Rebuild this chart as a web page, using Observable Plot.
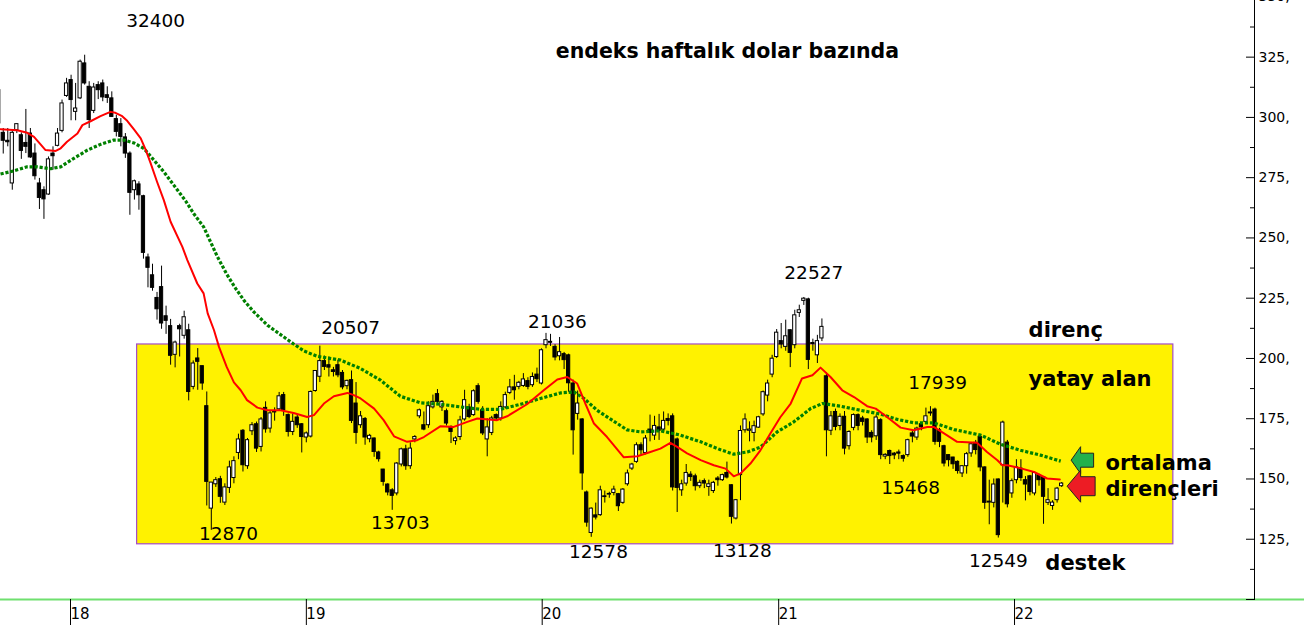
<!DOCTYPE html>
<html><head><meta charset="utf-8">
<script src="https://cdn.jsdelivr.net/npm/d3@7"></script>
<script src="https://cdn.jsdelivr.net/npm/@observablehq/plot@0.6"></script>
<style>html,body{margin:0;padding:0;background:#fff;} svg{display:block}</style>
</head><body><div id="chart"></div>
<script>
// ---------- data ----------
const firstWeek = "2017-09-15"; // date of the first weekly candle
const opens = [311.3,293.6,290.3,272.6,294.7,292.6,289.4,293.3,285.0,272.6,
269.8,268.0,285.0,288.2,294.4,308.9,315.5,302.3,307.9,322.4,
312.7,302.7,313.4,314.1,309.2,307.9,299.3,297.2,291.7,285.0,
269.8,272.2,267.3,241.9,234.5,225.1,229.6,217.5,213.4,201.5,
213.4,209.4,211.7,188.2,200.0,196.8,180.2,137.7,147.8,149.9,
140.2,146.3,150.4,160.8,170.0,155.3,169.8,172.7,163.3,179.5,
170.9,177.6,178.9,184.8,176.5,169.5,175.5,172.7,167.2,167.6,
186.5,192.4,198.9,197.2,195.1,197.2,194.0,188.5,191.0,181.3,
172.3,174.9,166.5,166.8,161.0,153.9,147.7,145.3,144.0,156.0,
162.3,155.3,166.4,176.0,172.3,172.3,179.7,185.2,179.7,178.1,
171.6,165.7,167.4,174.7,179.7,176.5,188.5,178.5,166.4,169.1,
176.5,175.1,179.7,185.7,188.0,188.2,188.6,190.6,188.9,193.3,
189.6,205.5,206.9,204.8,200.9,201.8,201.3,189.6,177.0,174.7,
144.4,127.6,134.9,135.0,142.8,143.5,144.2,143.7,140.1,147.8,
154.3,157.1,164.0,160.8,170.5,168.0,171.4,170.5,174.9,176.0,
166.4,145.3,148.1,151.8,151.1,147.0,149.1,146.7,145.0,150.2,
149.5,152.5,147.4,133.6,151.6,170.2,170.0,169.1,171.3,176.8,
184.6,193.3,200.6,207.2,204.8,211.7,205.5,218.9,223.9,224.5,
206.4,201.3,208.3,192.6,170.0,177.8,172.0,175.8,163.6,171.2,
176.5,175.1,174.7,169.1,167.7,174.4,159.3,161.6,160.5,161.0,
159.5,159.9,168.9,167.2,172.7,173.7,177.2,178.8,170.2,163.6,
159.9,158.9,157.1,152.3,155.3,160.6,165.0,167.5,154.8,140.2,
140.1,149.8,155.7,165.1,144.0,149.5,154.3,149.5,151.1,144.0,
151.6,150.8,140.1,138.8,141.2,147.0];
const highs = [313,295.4,295.4,294.7,297.2,293.6,303.3,295.4,289.0,274.7,
271.2,283.6,287.8,295.4,307.2,316.2,317.5,314.1,323.8,325.8,
314.8,314.1,314.8,315.5,312.7,310.6,300.9,299.5,293.3,285.7,
274.0,273.3,267.7,243.3,239.1,227.4,238.3,221.7,216.2,207.2,
214.2,219.6,214.2,199.0,204.1,196.8,186.1,148.5,150.6,151.1,
148.0,157.4,159.2,168.6,170.5,166.8,173.4,173.6,175.5,182.0,
178.0,179.5,185.9,185.9,177.0,177.0,176.5,173.0,169.5,186.5,
195.0,205.1,201.0,200.6,196.3,199.3,195.0,191.0,194.8,190.0,
178.0,175.5,168.5,167.0,161.5,154.0,148.0,146.0,156.8,162.8,
164.0,165.0,168.0,179.0,177.8,182.0,184.8,187.1,182.5,179.0,
172.0,167.5,176.0,186.8,181.0,187.0,189.5,180.0,175.0,176.0,
177.0,182.0,186.0,191.3,193.0,190.5,193.7,192.0,194.0,196.0,
204.0,210.4,210.0,205.7,208.7,202.5,201.8,191.0,186.5,175.0,
145.0,138.0,140.0,147.0,145.0,144.5,147.0,144.0,146.0,153.7,
156.5,165.0,165.0,168.0,176.5,176.0,176.8,177.8,177.0,177.0,
167.0,149.5,156.0,153.0,152.0,149.5,150.0,149.5,149.0,151.0,
152.0,157.0,147.6,141.5,172.0,177.0,173.7,174.0,176.0,186.5,
191.0,201.3,212.0,214.5,215.9,212.0,220.0,222.1,225.3,225.0,
208.0,209.6,216.4,194.0,178.0,179.0,177.0,178.0,170.0,177.0,
177.0,176.0,175.0,170.0,176.5,175.0,160.5,162.0,161.0,162.0,
160.0,166.5,170.0,171.5,173.0,179.4,180.0,179.4,171.0,164.0,
160.0,159.0,157.5,155.5,161.0,165.0,166.0,168.0,155.0,149.5,
150.0,150.0,174.0,166.0,150.0,158.0,158.0,151.0,151.5,153.0,
152.0,151.0,146.0,141.0,146.5,148.5];
const lows = [296,284.8,287.8,269.8,293.3,282.6,285.0,283.0,274.0,261.8,
257.7,267.7,278.1,287.8,293.6,308.3,298.6,298.6,307.4,313.4,
295.4,301.6,307.4,306.5,305.8,300.0,291.9,287.8,283.0,259.4,
265.7,261.5,241.2,229.3,227.9,215.9,212.1,210.0,197.2,196.1,
200.6,208.0,182.4,187.0,186.8,186.8,138.8,128.7,146.5,139.9,
139.0,144.0,148.0,158.0,152.9,154.0,168.0,161.0,161.2,169.0,
169.0,174.0,178.0,176.0,167.4,168.0,171.0,160.8,165.0,167.0,
186.0,190.0,195.0,192.3,192.3,192.0,187.0,187.0,173.0,164.4,
171.0,164.0,165.0,159.0,157.0,147.0,143.0,137.0,143.0,155.0,
153.6,154.0,165.0,175.0,170.0,171.0,179.0,181.0,178.0,172.0,
164.7,164.0,166.0,174.0,175.0,176.0,181.0,168.0,159.2,168.0,
174.0,174.0,179.0,185.0,182.7,187.0,188.0,187.0,188.0,190.0,
189.0,204.0,205.0,199.0,199.0,195.4,186.0,159.9,174.4,145.3,
130.0,125.8,133.0,134.5,140.0,142.0,143.0,136.5,139.5,147.0,
153.5,156.5,160.0,160.0,165.4,166.0,166.0,169.0,172.0,145.0,
136.1,142.8,147.0,149.0,145.0,146.0,146.0,142.8,144.0,147.0,
149.0,150.0,131.3,133.0,141.0,169.0,165.4,165.4,171.0,176.0,
182.0,192.0,200.0,204.0,203.0,196.2,204.0,217.0,222.0,195.4,
203.0,197.9,207.0,159.2,168.0,170.0,170.0,160.0,162.0,170.0,
170.0,172.0,164.7,165.0,166.0,158.0,158.0,156.0,158.0,158.0,
157.0,159.0,165.0,166.0,170.0,173.0,176.0,164.0,163.0,155.0,
155.0,154.0,152.0,150.6,152.0,159.0,160.0,153.0,137.4,131.0,
138.0,125.5,140.0,138.0,142.0,148.0,149.0,140.9,143.0,143.0,
147.0,131.2,139.0,137.0,140.0,146.5];
const closes = [297.5,290.3,289.7,293.6,297.2,286.1,287.8,283.4,275.6,266.6,
266.0,282.6,283.9,293.3,305.8,314.1,307.2,303.7,323.1,314.1,
298.9,312.4,311.3,308.3,308.1,300.2,294.0,291.9,285.0,268.7,
273.5,267.7,243.8,237.6,229.3,220.4,214.5,215.6,201.1,206.6,
212.1,217.1,186.1,197.9,198.6,189.6,148.8,148.5,149.5,142.6,
146.5,154.8,157.4,166.4,155.7,166.1,172.3,162.6,174.7,170.6,
177.2,178.0,184.3,178.5,169.5,173.7,172.3,167.4,168.9,186.1,
194.8,198.9,196.5,196.2,194.4,193.0,188.0,190.7,174.1,169.1,
176.0,167.2,167.9,161.2,158.2,148.8,144.4,143.0,156.4,162.3,
155.3,162.6,167.4,178.5,170.5,180.2,182.0,182.0,182.0,173.0,
169.5,166.8,174.3,182.7,175.7,186.4,182.0,168.9,171.4,175.1,
175.1,179.9,184.8,188.0,186.8,189.9,191.3,188.2,192.3,191.4,
203.4,207.6,206.5,200.4,202.6,199.3,189.7,170.2,181.3,152.3,
131.9,137.7,134.0,145.3,142.5,143.8,145.6,138.7,145.6,152.3,
156.0,164.0,161.9,166.8,169.1,172.0,170.0,174.1,174.1,146.5,
146.3,147.8,152.5,150.8,147.0,148.4,148.1,147.8,148.4,149.5,
151.6,150.6,134.3,141.2,169.9,174.7,170.5,171.9,175.6,186.0,
189.6,199.9,210.7,205.8,209.2,202.3,217.9,220.0,224.8,199.4,
206.0,207.2,213.1,170.2,176.0,171.6,175.8,162.6,169.5,176.5,
172.0,173.7,167.2,167.2,175.5,159.9,160.0,159.5,159.8,160.5,
158.4,166.1,167.6,170.9,171.4,176.0,177.6,165.4,165.4,156.4,
157.8,156.1,153.3,155.3,160.3,164.4,162.0,154.8,140.1,140.6,
147.7,126.7,173.4,139.5,149.1,154.8,150.4,147.7,144.6,152.5,
149.5,142.6,141.2,140.2,146.0,148.1];

// moving averages (position in weeks from the first candle, value)
const redWeek = [0.4,4.1,6.3,7.8,9.2,10.3,12.6,13.7,15.1,17.4,18.5,20.3,22.5,24.7,25.8,27.3,28.4,29.9,31.4,32.5,33.6,35.0,36.5,38.0,40.6,41.7,43.9,45.3,46.2,47.6,48.7,50.4,52.0,53.5,54.9,57.2,59.4,62.3,65.2,68.2,69.7,71.9,74.1,77.1,78.5,80.0,83.0,85.1,87.4,90.3,92.5,94.0,97.7,100.6,103.6,105.8,110.2,112.4,116.8,120.5,123.5,125.7,127.9,129.7,131.6,134.5,138.2,141.2,143.4,146.3,148.5,150.0,152.2,155.2,158.1,160.7,162.5,164.0,166.2,168.4,170.6,172.8,175.1,177.6,179.9,181.7,183.9,186.5,189.1,192.0,193.9,196.4,199.4,202.3,205.3,206.7,209.0,211.9,216.3,218.5,220.8,221.9,223.0,225.2,228.9,231.8,234.6];
const redValue = [295.1,294.7,293.6,291.9,288.9,286.5,286.1,287.2,289.9,293.3,296.8,298.4,300.5,302.3,301.9,300.5,298.6,295.0,291.3,286.5,280.9,273.3,265.7,256.7,246.3,240.8,231.1,227.0,218.7,211.7,204.8,196.5,190.1,186.8,182.7,179.6,178.5,178.5,177.4,175.7,176.5,181.3,184.3,185.7,184.8,183.4,179.2,174.4,167.7,165.4,166.1,167.4,171.9,171.6,173.7,175.1,174.4,176.0,181.0,186.8,191.3,192.3,189.6,181.3,173.0,167.4,159.0,159.4,160.8,162.6,165.0,163.3,160.6,157.8,155.7,154.3,151.1,152.3,156.4,161.9,168.9,175.6,181.3,191.7,193.0,196.2,192.3,186.8,184.0,180.2,179.2,175.7,171.3,170.2,171.6,171.6,168.9,165.4,165.0,161.2,157.8,155.7,155.7,154.8,152.9,150.2,149.8];
const greenWeek = [0.4,3.3,6.3,8.5,11.5,13.7,16.6,19.6,22.5,25.4,27.7,29.9,32.1,34.3,36.5,38.7,41.3,43.1,45.3,48.3,50.4,52.4,54.3,56.4,59.4,62.3,65.2,67.5,70.4,75.6,80.0,84.4,88.8,93.3,97.7,102.1,106.5,110.9,115.4,119.8,124.2,127.2,129.4,132.3,135.3,138.9,141.9,146.3,150.7,155.2,159.6,162.5,165.5,168.4,172.1,175.8,179.5,182.1,186.1,190.5,195.0,198.7,202.3,206.7,211.2,217.1,221.5,225.9,230.3,234.8];
const greenValue = [276.5,277.8,279.5,279.5,278.7,279.5,283.0,286.4,288.8,290.6,290.6,289.4,287.1,282.3,277.4,271.9,265.4,260.1,254.6,242.4,235.0,229.0,223.9,219.3,213.8,209.9,206.0,203.1,200.9,199.3,195.8,191.0,184.3,181.6,181.0,179.9,178.9,178.9,181.0,183.4,185.7,186.1,183.4,178.5,174.8,170.4,169.5,170.0,168.2,165.4,162.1,160.3,161.2,163.2,169.5,173.7,179.2,181.3,180.2,178.5,176.9,174.7,173.3,173.3,170.5,168.2,164.4,161.9,159.9,157.4];

// annotations
const peakTexts = ["32400","20507","21036","22527","17939","15468","12870","13703","12578","13128","12549"];
const peakWeek  = [34.7,77.8,123.5,180.2,207.6,201.6,50.8,88.8,132.6,164.4,221.0];
const peakValue = [339.9,212.6,215.0,235.4,189.7,146.2,127.1,131.6,119.6,120.0,115.9];
const noteTexts = ["direnç","yatay alan","ortalama","dirençleri","destek"];
const noteWeek  = [227.7,227.7,244.7,244.7,231.4];
const noteValue = [211.7,191.4,156.5,145.7,115.0];
const titleText = ["endeks haftalık dolar bazında"];
const titleWeek = [161.1];
const titleValue = [327.3];
// horizontal band ("yatay alan")
const zoneWeekStart = [30.6], zoneWeekEnd = [259.7], zoneLow = [122.9], zoneHigh = [205.8];
// arrows ("ortalama dirençleri")
const arrowWeek = [239.2, 239.2];
const arrowValue = [157.8, 147.0];
const arrowColor = ["#22b14c", "#ed1c24"];
// axes
const yMajor = [100,125,150,175,200,225,250,275,300,325,350];
const yLabelled = [125,150,175,200,225,250,275,300,325,350];
const yMinor = [112.5,137.5,162.5,187.5,212.5,237.5,262.5,287.5,312.5,337.5];
const yearTicks = [2018,2019,2020,2021,2022];
const yearLabels = ["18","19","20","21","22"];

// ---------- build ----------
const DAY = 864e5;
const t0 = Date.parse(firstWeek);
const weekDate = w => new Date(t0 + w * 7 * DAY);
const candles = opens.map((o, i) => ({date: weekDate(i), open: o, high: highs[i], low: lows[i], close: closes[i]}));
const ups = candles.filter(d => d.close >= d.open);
const downs = candles.filter(d => d.close < d.open);
const red = redWeek.map((w, i) => ({date: weekDate(w), v: redValue[i]}));
const green = greenWeek.map((w, i) => ({date: weekDate(w), v: greenValue[i]}));
const peaks = peakTexts.map((t, i) => ({t, date: weekDate(peakWeek[i]), v: peakValue[i]}));
const notes = noteTexts.map((t, i) => ({t, date: weekDate(noteWeek[i]), v: noteValue[i]}));
const titles = titleText.map((t, i) => ({t, date: weekDate(titleWeek[i]), v: titleValue[i]}));
const zone = zoneWeekStart.map((s, i) => ({x1: weekDate(s), x2: weekDate(zoneWeekEnd[i]), y1: zoneLow[i], y2: zoneHigh[i]}));
const arrows = arrowWeek.map((w, i) => ({date: weekDate(w), v: arrowValue[i], c: arrowColor[i]}));
const yearDates = yearTicks.map(y => new Date(Date.UTC(y, 0, 1)));

const xStart = new Date(Date.UTC(2017, 8, 17, 18));
const xEnd = new Date(Date.UTC(2023, 0, 10, 12));
const xBeyond = new Date(Date.UTC(2023, 3, 15));
const half = 2.5 * DAY;

const arrowGreen = {draw(c) { c.moveTo(-9.5,0); c.lineTo(0,-13.5); c.lineTo(0,-7); c.lineTo(13,-7); c.lineTo(13,7); c.lineTo(0,7); c.lineTo(0,13.5); c.closePath(); }};
const arrowRed = {draw(c) { c.moveTo(-13.5,0); c.lineTo(0,-16); c.lineTo(0,-9.5); c.lineTo(14.5,-9.5); c.lineTo(14.5,9.5); c.lineTo(0,9.5); c.lineTo(0,16); c.closePath(); }};

const chart = Plot.plot({
  width: 1304, height: 626,
  marginLeft: 0, marginRight: 50, marginTop: 0, marginBottom: 27,
  style: {fontFamily: "'DejaVu Sans', Verdana, sans-serif", background: "#fff", color: "#000"},
  x: {type: "utc", domain: [xStart, xEnd], axis: null},
  y: {domain: [100, 348.5], axis: null},
  marks: [
    Plot.rect(zone, {x1: "x1", x2: "x2", y1: "y1", y2: "y2", fill: "#fff200", stroke: "#a24cc8", strokeWidth: 1.2}),
    Plot.ruleY([100], {x1: xStart, x2: xBeyond, stroke: "#6fe06f", strokeWidth: 2}),
    Plot.ruleX([xEnd], {y1: 100, y2: 348.5, stroke: "#000", strokeWidth: 1}),
    Plot.axisY({anchor: "right", ticks: yMajor, tickSize: -9, tickFormat: () => "", stroke: "#000"}),
    Plot.axisY({anchor: "right", ticks: yMinor, tickSize: -5, tickFormat: () => "", stroke: "#000"}),
    Plot.axisY({anchor: "right", ticks: yLabelled, tickSize: 0, tickPadding: 4, tickFormat: d => d + ",", fontSize: 14, fill: "#000"}),
    Plot.axisX({anchor: "bottom", ticks: yearDates, tickSize: 26, tickPadding: -17, textAnchor: "start", dx: 2,
      tickFormat: d => yearLabels[yearTicks.indexOf(d.getUTCFullYear())], fontSize: 15, fill: "#000", stroke: "#000"}),
    Plot.ruleX(candles, {x: "date", y1: "low", y2: "high", stroke: "#000", strokeWidth: 1}),
    Plot.rect(downs, {x1: d => new Date(+d.date - half), x2: d => new Date(+d.date + half), y1: "open", y2: "close", fill: "#000", stroke: "#000", strokeWidth: 1}),
    Plot.rect(ups, {x1: d => new Date(+d.date - half), x2: d => new Date(+d.date + half), y1: "open", y2: "close", fill: "#fff", stroke: "#000", strokeWidth: 1}),
    Plot.line(green, {x: "date", y: "v", stroke: "#008000", strokeWidth: 3.2, strokeDasharray: "3.2,1.8", strokeLinecap: "butt", strokeLinejoin: "miter"}),
    Plot.line(red, {x: "date", y: "v", stroke: "#ff0000", strokeWidth: 2}),
    Plot.text(peaks, {x: "date", y: "v", text: "t", fontSize: 18.5, fill: "#000"}),
    Plot.text(notes, {x: "date", y: "v", text: "t", textAnchor: "start", fontSize: 21, fontWeight: "bold", fill: "#000"}),
    Plot.text(titles, {x: "date", y: "v", text: "t", fontSize: 20.5, fontWeight: "bold", fill: "#000"}),
    Plot.dot(arrows.slice(0, 1), {x: "date", y: "v", symbol: arrowGreen, fill: arrowColor[0], stroke: "#222", strokeWidth: 1}),
    Plot.dot(arrows.slice(1, 2), {x: "date", y: "v", symbol: arrowRed, fill: arrowColor[1], stroke: "#222", strokeWidth: 1})
  ]
});
document.getElementById("chart").appendChild(chart);
</script>
</body></html>
